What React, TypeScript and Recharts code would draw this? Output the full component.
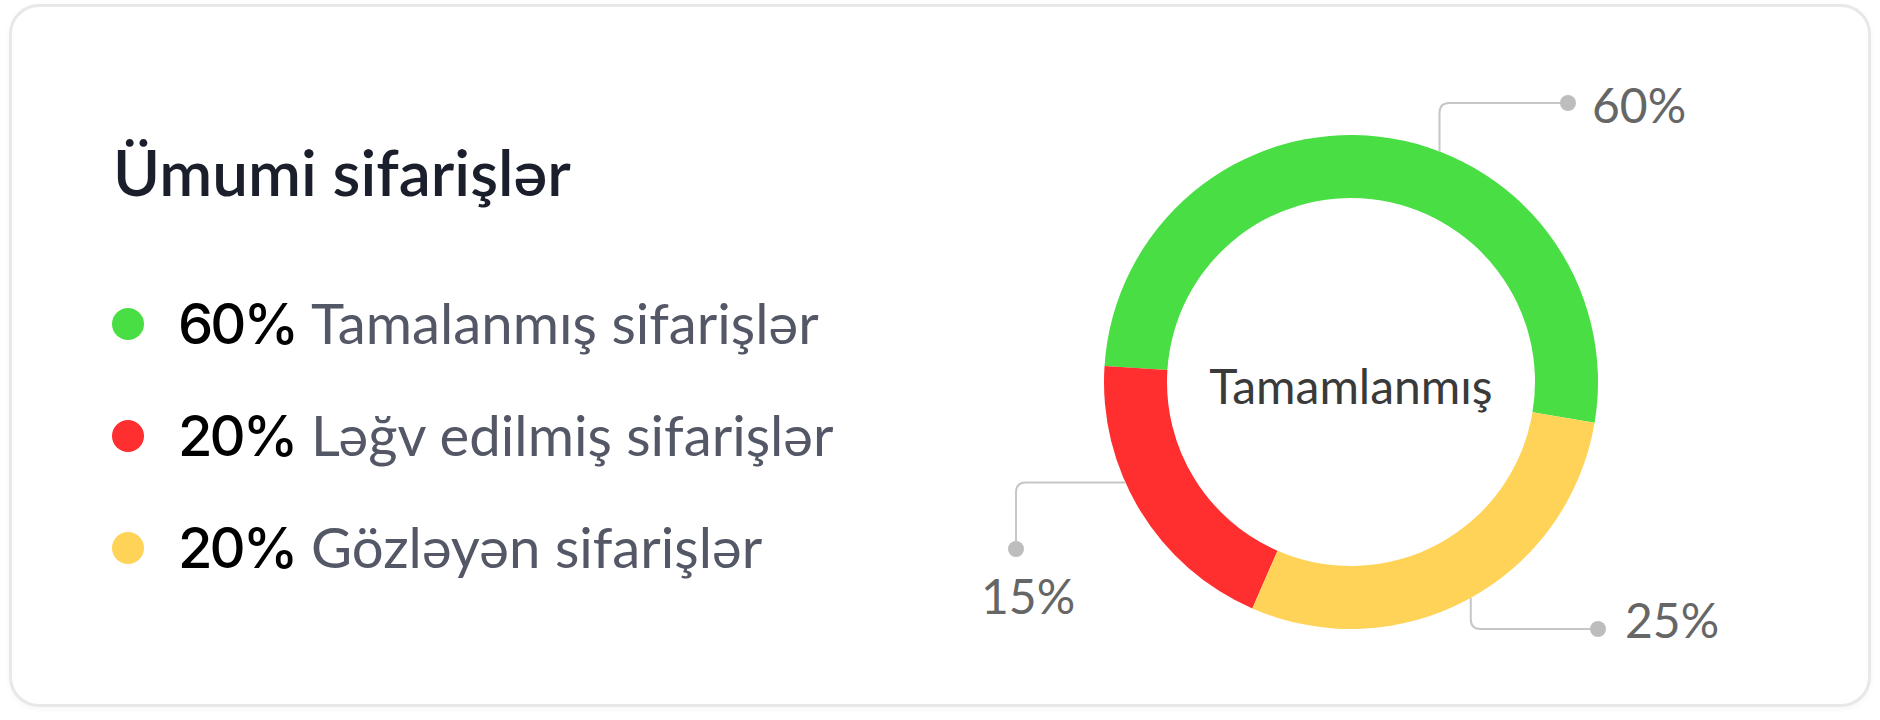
import React from 'react';
import { PieChart, Pie, Cell } from 'recharts';

// legend rows (left side)
const categories = ['Tamalanmış sifarişlər', 'Ləğv edilmiş sifarişlər', 'Gözləyən sifarişlər'];
const legendPercents = ['60%', '20%', '20%'];

// ring slices
const sliceValues = [51.6, 19.5, 28.9];
const calloutLabels = ['60%', '15%', '25%'];
const sliceColors = ['#48DE44', '#FF2E2F', '#FFD357'];

const centerText = 'Tamamlanmış';
const title = 'Ümumi sifarişlər';

const data = categories.map((name, i) => ({ name, value: sliceValues[i] }));

const CX = 1351;
const CY = 382;

// callout geometry, relative to the pie centre
const CALLOUTS = [
    { angle: 69, kind: 'up', elbow: -279, dot: 217, textX: 241, textY: -259 },
    { angle: 204, kind: 'left', elbow: -335, dot: 167, textX: -370, textY: 232 },
    { angle: 299, kind: 'down', elbow: 247, dot: 247, textX: 274, textY: 256 },
];

const LINE = '#C6C6C6';
const R = 10;

const renderCallout = (props: any) => {
    const { cx, cy, outerRadius, index } = props;
    const c = CALLOUTS[index];
    if (!c) return null;
    const rad = (c.angle * Math.PI) / 180;
    const ax = cx + outerRadius * Math.cos(rad);
    const ay = cy - outerRadius * Math.sin(rad);
    let d = '';
    let dx = 0;
    let dy = 0;
    if (c.kind === 'up') {
        const ey = cy + c.elbow;
        dx = cx + c.dot;
        dy = ey;
        d = `M${ax},${ay} V${ey + R} Q${ax},${ey} ${ax + R},${ey} H${dx}`;
    } else if (c.kind === 'down') {
        const ey = cy + c.elbow;
        dx = cx + c.dot;
        dy = ey;
        d = `M${ax},${ay} V${ey - R} Q${ax},${ey} ${ax + R},${ey} H${dx}`;
    } else {
        const ex = cx + c.elbow;
        dx = ex;
        dy = cy + c.dot;
        d = `M${ax},${ay} H${ex + R} Q${ex},${ay} ${ex},${ay + R} V${dy}`;
    }
    return (
        <g key={`callout-${index}`}>
            <path d={d} fill="none" stroke={LINE} strokeWidth={2} />
            <circle cx={dx} cy={dy} r={8} fill="#BDBDBD" />
            <text
                x={cx + c.textX}
                y={cy + c.textY}
                fill="#666666"
                fontFamily="Lato, sans-serif"
                fontSize={48}
            >
                {calloutLabels[index]}
            </text>
        </g>
    );
};

const App: React.FC = () => {
    return (
        <div style={{ position: 'fixed', left: 0, top: 0, width: 1880, height: 720, background: '#fff' }}>
            <div
                style={{
                    position: 'absolute',
                    left: 9,
                    top: 4,
                    width: 1856,
                    height: 697,
                    border: '3px solid #E8E8E9',
                    borderRadius: 30,
                    boxShadow: '0 2px 6px rgba(0,0,0,0.04)',
                    background: '#fff',
                }}
            />
            <svg width={900} height={720} style={{ position: 'absolute', left: 0, top: 0 }}>
                <text x={113} y={196} fontFamily="Lato, sans-serif" fontSize={63.8} fontWeight={600} fill="#1B1F2B">
                    {title}
                </text>
                {categories.map((cat, i) => (
                    <g key={cat}>
                        <circle cx={128} cy={324 + i * 112} r={16} fill={sliceColors[i]} />
                        <text
                            x={178}
                            y={344 + i * 112}
                            fontFamily="Inter, sans-serif"
                            fontSize={56}
                            fontWeight={500}
                            letterSpacing={-3}
                            fill="#000"
                        >
                            {legendPercents[i]}
                        </text>
                        <text x={311} y={344 + i * 112} fontFamily="Lato, sans-serif" fontSize={56.3} fill="#545866">
                            {cat}
                        </text>
                    </g>
                ))}
            </svg>
            <div style={{ position: 'absolute', left: 0, top: 0 }}>
                <PieChart width={1880} height={720} margin={{ top: 0, right: 0, bottom: 0, left: 0 }}>
                    <Pie
                        data={data}
                        dataKey="value"
                        cx={CX}
                        cy={CY}
                        innerRadius={184}
                        outerRadius={247}
                        startAngle={-9.5}
                        endAngle={350.5}
                        stroke="none"
                        label={renderCallout}
                        labelLine={false}
                        isAnimationActive={false}
                    >
                        {data.map((d, i) => (
                            <Cell key={d.name} fill={sliceColors[i]} />
                        ))}
                    </Pie>
                </PieChart>
            </div>
            <svg width={1880} height={720} style={{ position: 'absolute', left: 0, top: 0, pointerEvents: 'none' }}>
                <text x={CX} y={CY + 22} textAnchor="middle" fontFamily="Lato, sans-serif" fontSize={48} fill="#3A3A3A">
                    {centerText}
                </text>
            </svg>
        </div>
    );
};

export default App;
